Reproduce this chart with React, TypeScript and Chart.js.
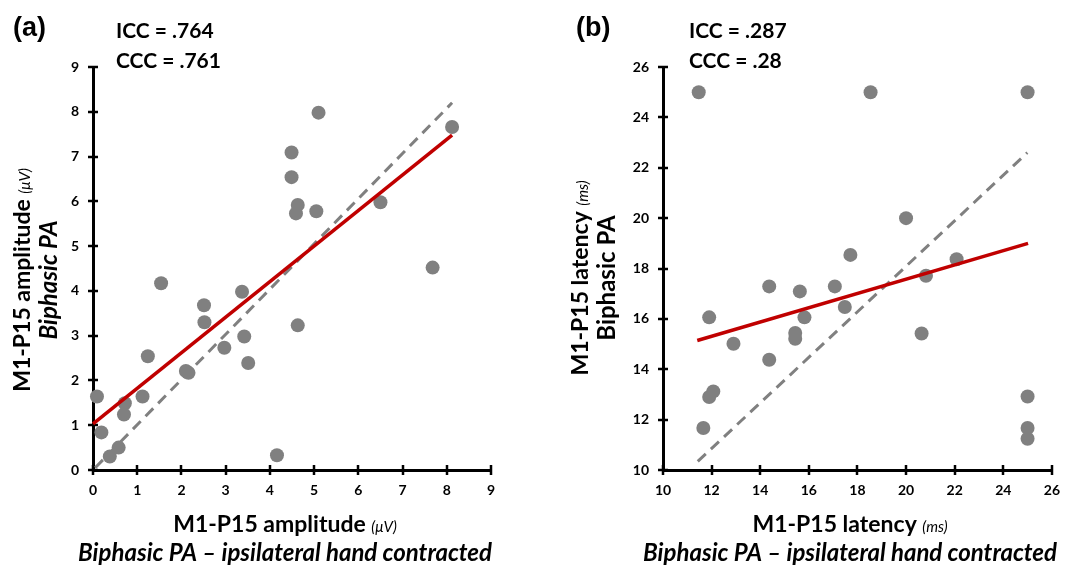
import React, { useEffect, useRef } from 'react';
import { Chart, registerables } from 'chart.js';
Chart.register(...registerables);

// ---------- Data: panel (a) amplitude ----------
const ampX = [4.49, 4.49, 5.1, 8.12, 4.63, 4.59, 5.05, 6.5, 7.68, 1.54, 3.37, 2.51, 2.52, 3.42, 4.63, 2.97, 3.51, 1.24, 2.1, 2.16, 0.09, 0.72, 0.7, 1.12, 0.19, 0.58, 0.38, 4.16];
const ampY = [7.09, 6.54, 7.98, 7.66, 5.92, 5.73, 5.78, 5.98, 4.52, 4.17, 3.98, 3.68, 3.3, 2.98, 3.23, 2.73, 2.39, 2.54, 2.21, 2.17, 1.64, 1.49, 1.24, 1.64, 0.84, 0.5, 0.3, 0.33];
const ampFitX = [0, 8.12];
const ampFitY = [1.03, 7.48];
const ampRefX = [0.05, 8.12];
const ampRefY = [0.05, 8.2];

// ---------- Data: panel (b) latency ----------
const latX = [11.47, 18.54, 25.0, 20.0, 17.71, 22.08, 20.82, 14.37, 15.63, 17.07, 17.48, 15.82, 11.9, 20.64, 15.44, 15.44, 12.9, 14.37, 12.07, 11.9, 11.66, 25.0, 25.0, 25.0];
const latY = [25.0, 25.0, 25.0, 20.0, 18.54, 18.37, 17.71, 17.29, 17.09, 17.29, 16.47, 16.06, 16.06, 15.42, 15.44, 15.21, 15.01, 14.38, 13.12, 12.9, 11.67, 12.92, 11.67, 11.24];
const latFitX = [11.41, 25.02];
const latFitY = [15.14, 19.0];
const latRefX = [11.43, 24.99];
const latRefY = [10.34, 22.6];

// ---------- Text ----------
const panelLabels = ['(a)', '(b)'];
const iccTexts = ['ICC = .764', 'ICC = .287'];
const cccTexts = ['CCC = .761', 'CCC = .28'];
const xTitleMain = ['M1-P15 amplitude ', 'M1-P15 latency '];
const unitTexts = ['(\u03BCV)', '(ms)'];
const yTitleMain = ['M1-P15 amplitude ', 'M1-P15 latency '];
const ySecond = 'Biphasic PA';
const xSecond = 'Biphasic PA \u2013 ipsilateral hand contracted';

const F = 'Lato, "Open Sans", sans-serif';
const FA = '"Liberation Sans", Arial, sans-serif';
const W = 536;
const H = 566;

type Part = { text: string; font: string };

function drawParts(ctx: CanvasRenderingContext2D, parts: Part[], x: number, y: number, align: 'center' | 'left') {
  ctx.textAlign = 'left';
  ctx.textBaseline = 'alphabetic';
  let total = 0;
  const widths = parts.map((p) => {
    ctx.font = p.font;
    const w = ctx.measureText(p.text).width;
    total += w;
    return w;
  });
  let cx = align === 'center' ? x - total / 2 : x;
  parts.forEach((p, i) => {
    ctx.font = p.font;
    ctx.fillText(p.text, cx, y);
    cx += widths[i];
  });
}

interface PanelCfg {
  idx: number;
  xs: number[];
  ys: number[];
  fitX: number[];
  fitY: number[];
  refX: number[];
  refY: number[];
  xMin: number;
  xMax: number;
  xStep: number;
  yMin: number;
  yMax: number;
  yStep: number;
  yWidth: number;
  padRight: number;
  labelX: number;
  iccX: number;
  xTitleCx: number;
  yTitleX1: number;
  yTitleX2: number;
  yTitleCy: number;
  secondItalic: boolean;
}

const panels: PanelCfg[] = [
  {
    idx: 0, xs: ampX, ys: ampY, fitX: ampFitX, fitY: ampFitY, refX: ampRefX, refY: ampRefY,
    xMin: 0, xMax: 9, xStep: 1, yMin: 0, yMax: 9, yStep: 1,
    yWidth: 93, padRight: 45, labelX: 13, iccX: 116, xTitleCx: 285,
    yTitleX1: 30, yTitleX2: 57, yTitleCy: 280, secondItalic: true,
  },
  {
    idx: 1, xs: latX, ys: latY, fitX: latFitX, fitY: latFitY, refX: latRefX, refY: latRefY,
    xMin: 10, xMax: 26, xStep: 2, yMin: 10, yMax: 26, yStep: 2,
    yWidth: 127, padRight: 18, labelX: 40, iccX: 153, xTitleCx: 314,
    yTitleX1: 52, yTitleX2: 79, yTitleCy: 278, secondItalic: false,
  },
];

function Panel({ cfg }: { cfg: PanelCfg }) {
  const ref = useRef<HTMLCanvasElement>(null);
  useEffect(() => {
    if (!ref.current) return;
    const pts = cfg.xs.map((x, i) => ({ x, y: cfg.ys[i] }));
    const fit = cfg.fitX.map((x, i) => ({ x, y: cfg.fitY[i] }));
    const refl = cfg.refX.map((x, i) => ({ x, y: cfg.refY[i] }));

    const crossTicks = {
      id: 'crossTicks',
      beforeDatasetsDraw(chart: any) {
        const ctx = chart.ctx;
        const xs = chart.scales.x;
        const ys = chart.scales.y;
        const area = chart.chartArea;
        ctx.save();
        ctx.strokeStyle = '#000';
        ctx.lineWidth = 2.5;
        ctx.beginPath();
        xs.ticks.forEach((t: any) => {
          const px = Math.round(xs.getPixelForValue(t.value));
          ctx.moveTo(px, area.bottom - 5);
          ctx.lineTo(px, area.bottom + 5);
        });
        ys.ticks.forEach((t: any) => {
          const py = Math.round(ys.getPixelForValue(t.value));
          ctx.moveTo(area.left - 5, py);
          ctx.lineTo(area.left + 5, py);
        });
        ctx.stroke();
        ctx.restore();
      },
    };

    const texts = {
      id: 'texts',
      afterDraw(chart: any) {
        const ctx = chart.ctx as CanvasRenderingContext2D;
        ctx.save();
        ctx.fillStyle = '#000';
        const i = cfg.idx;
        drawParts(ctx, [{ text: panelLabels[i], font: `bold 27px ${FA}` }], cfg.labelX, 36, 'left');
        drawParts(ctx, [{ text: iccTexts[i], font: `bold 21px ${F}` }], cfg.iccX, 38, 'left');
        drawParts(ctx, [{ text: cccTexts[i], font: `bold 21px ${F}` }], cfg.iccX, 68, 'left');
        drawParts(
          ctx,
          [
            { text: xTitleMain[i], font: `bold 23px ${F}` },
            { text: unitTexts[i], font: `italic 15px ${F}` },
          ],
          cfg.xTitleCx, 532, 'center'
        );
        drawParts(ctx, [{ text: xSecond, font: `italic bold 24px ${F}` }], cfg.xTitleCx, 561, 'center');
        // y titles
        ctx.save();
        ctx.translate(cfg.yTitleX1, cfg.yTitleCy);
        ctx.rotate(-Math.PI / 2);
        drawParts(
          ctx,
          [
            { text: yTitleMain[i], font: `bold 23px ${F}` },
            { text: unitTexts[i], font: `italic 15px ${F}` },
          ],
          0, 0, 'center'
        );
        ctx.restore();
        ctx.save();
        ctx.translate(cfg.yTitleX2, cfg.yTitleCy);
        ctx.rotate(-Math.PI / 2);
        drawParts(ctx, [{ text: ySecond, font: `${cfg.secondItalic ? 'italic ' : ''}bold 24px ${F}` }], 0, 0, 'center');
        ctx.restore();
        ctx.restore();
      },
    };

    const tickFont = { family: F, size: 14, weight: 'bold' as const };
    const chart = new Chart(ref.current, {
      type: 'scatter',
      data: {
        datasets: [
          {
            data: fit,
            showLine: true,
            borderColor: '#C00000',
            borderWidth: 3.5,
            pointRadius: 0,
            order: 0,
            clip: false,
          } as any,
          {
            data: pts,
            backgroundColor: '#808080',
            borderWidth: 0,
            pointRadius: 7,
            order: 1,
            clip: false,
          } as any,
          {
            data: refl,
            showLine: true,
            borderColor: '#808080',
            borderWidth: 3,
            borderDash: [11, 7],
            pointRadius: 0,
            order: 2,
            clip: false,
          } as any,
        ],
      },
      options: {
        animation: false,
        responsive: false,
        devicePixelRatio: 1,
        layout: { padding: { left: 0, top: 67, right: cfg.padRight, bottom: 0 } },
        plugins: { legend: { display: false }, tooltip: { enabled: false }, title: { display: false } },
        events: [],
        scales: {
          x: {
            type: 'linear',
            min: cfg.xMin,
            max: cfg.xMax,
            ticks: { stepSize: cfg.xStep, font: tickFont, color: '#000', padding: 12, maxRotation: 0 },
            grid: { display: false, drawTicks: false },
            border: { display: true, color: '#000', width: 3 },
            afterFit: (s: any) => { s.height = H - 470; },
          },
          y: {
            type: 'linear',
            min: cfg.yMin,
            max: cfg.yMax,
            ticks: { stepSize: cfg.yStep, font: tickFont, color: '#000', padding: 14 },
            grid: { display: false, drawTicks: false },
            border: { display: true, color: '#000', width: 3 },
            afterFit: (s: any) => { s.width = cfg.yWidth; },
          },
        },
      } as any,
      plugins: [crossTicks, texts],
    });
    return () => chart.destroy();
  }, [cfg]);
  return <canvas ref={ref} width={W} height={H} style={{ width: W, height: H, display: 'block' }} />;
}

export default function App() {
  return (
    <div style={{ position: 'fixed', left: 0, top: 0, width: 1072, height: 566, display: 'flex', background: '#fff' }}>
      {panels.map((p) => (
        <Panel key={p.idx} cfg={p} />
      ))}
    </div>
  );
}
